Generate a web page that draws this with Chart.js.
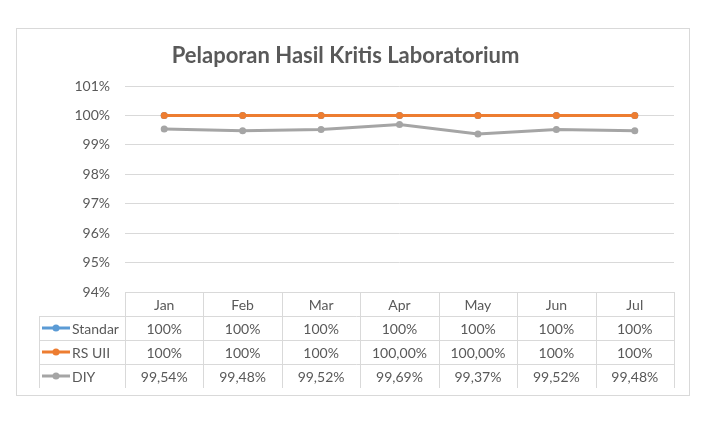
<!DOCTYPE html>
<html>
<head>
<meta charset="utf-8">
<script src="https://cdn.jsdelivr.net/npm/chart.js@4"></script>
<style>
  body { margin:0; background:#fff; }
  #box { position:absolute; left:16px; top:28px; width:674px; height:368px;
         border:1px solid #d9d9d9; box-sizing:border-box; }
  #chart { display:block; }
</style>
</head>
<body>
<div id="box"><canvas id="chart" width="672" height="366"></canvas></div>
<script>
// — data —
const months = ['Jan','Feb','Mar','Apr','May','Jun','Jul'];
const seriesNames = ['Standar','RS UII','DIY'];
const seriesColors = ['#5b9bd5','#ed7d31','#a5a5a5'];
const standar = [1, 1, 1, 1, 1, 1, 1];
const rsUii   = [1, 1, 1, 1, 1, 1, 1];
const diy     = [0.9954, 0.9948, 0.9952, 0.9969, 0.9937, 0.9952, 0.9948];
// text shown in the data table (as formatted in the sheet)
const standarText = ['100%','100%','100%','100%','100%','100%','100%'];
const rsUiiText   = ['100%','100%','100%','100,00%','100,00%','100%','100%'];
const diyText     = ['99,54%','99,48%','99,52%','99,69%','99,37%','99,52%','99,48%'];
const yTicks = [0.94, 0.95, 0.96, 0.97, 0.98, 0.99, 1.00, 1.01];

const FONT = 'Lato, "Open Sans", sans-serif';
const TXT = '#595959';
const GRID = '#d9d9d9';

// — data table under the plot —
const dataTable = {
  id: 'dataTable',
  afterDraw(chart) {
    const ctx = chart.ctx;
    const x = chart.scales.x;
    const area = chart.chartArea;
    const step = x.getPixelForValue(1) - x.getPixelForValue(0);
    const rowH = 24;
    const legendLeft = 22;
    const rows = [standarText, rsUiiText, diyText];
    const top = area.bottom;

    ctx.save();
    ctx.strokeStyle = GRID;
    ctx.lineWidth = 1;
    ctx.beginPath();
    // header row top + vertical lines
    ctx.moveTo(area.left, top + 0.5); ctx.lineTo(area.right, top + 0.5);
    for (let r = 1; r <= rows.length; r++) {
      const y = Math.round(top + r * rowH) + 0.5;
      ctx.moveTo(legendLeft, y); ctx.lineTo(area.right, y);
    }
    const bottom = top + rows.length * rowH + rowH;
    for (let i = 0; i <= months.length; i++) {
      const xx = Math.round(area.left + i * step) + 0.5;
      ctx.moveTo(xx, top); ctx.lineTo(xx, bottom);
    }
    ctx.moveTo(legendLeft + 0.5, top + rowH); ctx.lineTo(legendLeft + 0.5, bottom);
    ctx.stroke();

    ctx.fillStyle = TXT;
    ctx.font = '14px ' + FONT;
    ctx.textAlign = 'center';
    ctx.textBaseline = 'middle';
    months.forEach((m, i) => ctx.fillText(m, x.getPixelForValue(i), top + rowH / 2 + 1));
    rows.forEach((row, r) => {
      const cy = top + (r + 1) * rowH + rowH / 2 + 1;
      row.forEach((t, i) => ctx.fillText(t, x.getPixelForValue(i), cy));
      // legend key
      ctx.strokeStyle = seriesColors[r];
      ctx.lineWidth = 3;
      ctx.beginPath();
      ctx.moveTo(legendLeft + 3, cy - 1); ctx.lineTo(legendLeft + 31, cy - 1);
      ctx.stroke();
      ctx.fillStyle = seriesColors[r];
      ctx.beginPath();
      ctx.arc(legendLeft + 17, cy - 1, 3.5, 0, Math.PI * 2);
      ctx.fill();
      ctx.fillStyle = TXT;
      ctx.textAlign = 'left';
      ctx.fillText(seriesNames[r], legendLeft + 33, cy);
      ctx.textAlign = 'center';
    });
    ctx.restore();
  }
};

function ds(label, data, color, order) {
  return {
    label, data, order,
    borderColor: color, backgroundColor: color,
    borderWidth: 3, pointRadius: 3.5, pointBorderWidth: 0,
    pointBackgroundColor: color, tension: 0
  };
}

new Chart(document.getElementById('chart'), {
  type: 'line',
  data: {
    labels: months,
    datasets: [
      ds(seriesNames[0], standar, seriesColors[0], 2),
      ds(seriesNames[1], rsUii, seriesColors[1], 1),
      ds(seriesNames[2], diy, seriesColors[2], 0)
    ]
  },
  options: {
    responsive: false,
    animation: false,
    devicePixelRatio: 1,
    layout: { padding: { left: 0, right: 15, top: 0, bottom: 103 } },
    scales: {
      x: { display: false, offset: true },
      y: {
        min: 0.94, max: 1.01,
        afterBuildTicks: s => { s.ticks = yTicks.map(v => ({ value: v })); },
        afterFit: s => { s.width = 108; },
        border: { display: false },
        grid: { color: GRID, drawTicks: false },
        ticks: {
          padding: 15, color: TXT, font: { family: FONT, size: 14 },
          callback: v => Math.round(v * 100) + '%'
        }
      }
    },
    plugins: {
      legend: { display: false },
      tooltip: { enabled: false },
      title: {
        display: true,
        text: 'Pelaporan Hasil Kritis Laboratorium',
        color: TXT,
        font: { family: FONT, size: 22, weight: 'bold' },
        padding: { top: 14, bottom: 16.6 }
      }
    }
  },
  plugins: [dataTable]
});
</script>
</body>
</html>
